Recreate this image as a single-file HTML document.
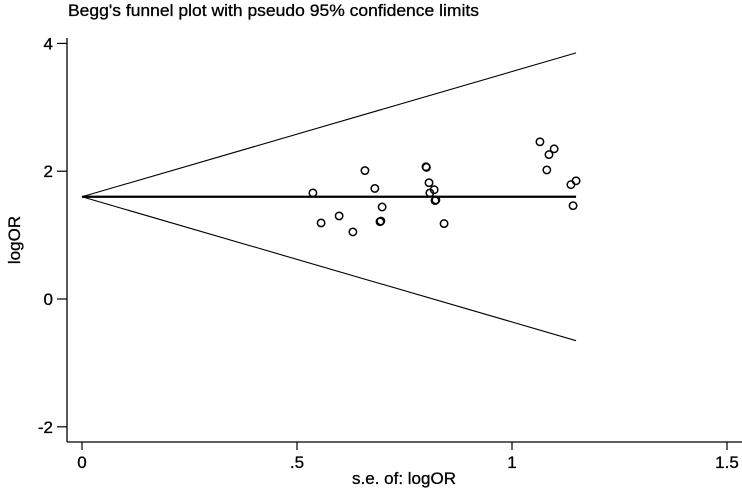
<!DOCTYPE html>
<html><head><meta charset="utf-8"><style>
html,body{margin:0;padding:0;background:#fff;}
svg text{font-family:"Liberation Sans",Arial,sans-serif;fill:#000;}
</style></head><body>
<svg width="742" height="488" viewBox="0 0 742 488" xmlns="http://www.w3.org/2000/svg">
<text x="68" y="16" font-size="17" textLength="411" lengthAdjust="spacingAndGlyphs" stroke="#000" stroke-width="0.3">Begg's funnel plot with pseudo 95% confidence limits</text>
<g id="axes"></g>
<g id="marks"></g>
</svg>
<script>
const seValues = [0.537,0.556,0.598,0.630,0.658,0.681,0.698,0.693,0.695,0.800,0.801,0.807,0.819,0.809,0.821,0.823,0.842,1.065,1.098,1.086,1.081,1.137,1.149,1.142];
const logOR = [1.66,1.19,1.30,1.05,2.01,1.73,1.44,1.21,1.22,2.07,2.06,1.82,1.71,1.66,1.54,1.55,1.18,2.46,2.35,2.26,2.02,1.79,1.85,1.46];
const pooled = [1.6];
const xTicks = [0,0.5,1,1.5];
const xTickLabels = ["0",".5","1","1.5"];
const yTicks = [-2,0,2,4];
const yTickLabels = ["-2","0","2","4"];

const NS="http://www.w3.org/2000/svg";
const X0=82, XS=430, Y0=299, YS=63.9;
function sx(v){return X0+v*XS;}
function sy(v){return Y0-v*YS;}
function mk(tag,attrs,parent){const e=document.createElementNS(NS,tag);for(const k in attrs)e.setAttribute(k,attrs[k]);parent.appendChild(e);return e;}
const axes=document.getElementById('axes'), marks=document.getElementById('marks');

let a=mk('line',{x1:67,y1:38,x2:67,y2:442,stroke:'#000','stroke-width':1.3},axes);


a=mk('line',{x1:67,y1:442,x2:742,y2:442,stroke:'#000','stroke-width':1.3},axes);



yTicks.forEach((v,i)=>{
  const t=mk('line',{x1:57,x2:67,y1:sy(v),y2:sy(v),stroke:'#000','stroke-width':1.2},axes);
  
  
  const l=mk('text',{x:53,y:sy(v)+6,'font-size':17,'text-anchor':'end',stroke:'#000','stroke-width':0.3},axes);
  l.textContent=yTickLabels[i];
  
  
});
xTicks.forEach((v,i)=>{
  const t=mk('line',{x1:sx(v),x2:sx(v),y1:442,y2:450,stroke:'#000','stroke-width':1.2},axes);
  
  
  const l=mk('text',{x:sx(v),y:468,'font-size':17,'text-anchor':'middle',stroke:'#000','stroke-width':0.3},axes);
  l.textContent=xTickLabels[i];
  
  
});
let t=mk('text',{x:404,y:484,'font-size':17,'text-anchor':'middle',stroke:'#000','stroke-width':0.3},axes);
t.textContent='s.e. of: logOR';


t=mk('text',{x:0,y:0,'font-size':17,'text-anchor':'middle',stroke:'#000','stroke-width':0.3,transform:'translate(20,240) rotate(-90)'},axes);
t.textContent='logOR';



const seMax=Math.max(...seValues);
const p=pooled[0];
let ln=mk('line',{x1:sx(0),y1:sy(p),x2:sx(seMax),y2:sy(p+1.96*seMax),stroke:'#000','stroke-width':1.1},marks);


ln=mk('line',{x1:sx(0),y1:sy(p),x2:sx(seMax),y2:sy(p-1.96*seMax),stroke:'#000','stroke-width':1.1},marks);


ln=mk('line',{x1:sx(0),y1:sy(p),x2:sx(seMax),y2:sy(p),stroke:'#000','stroke-width':2.2},marks);



seValues.forEach((s,i)=>{
  const c=mk('circle',{cx:sx(s),cy:sy(logOR[i]),r:3.7,fill:'none',stroke:'#000','stroke-width':1.5},marks);
  
  
});
</script>
</body></html>
